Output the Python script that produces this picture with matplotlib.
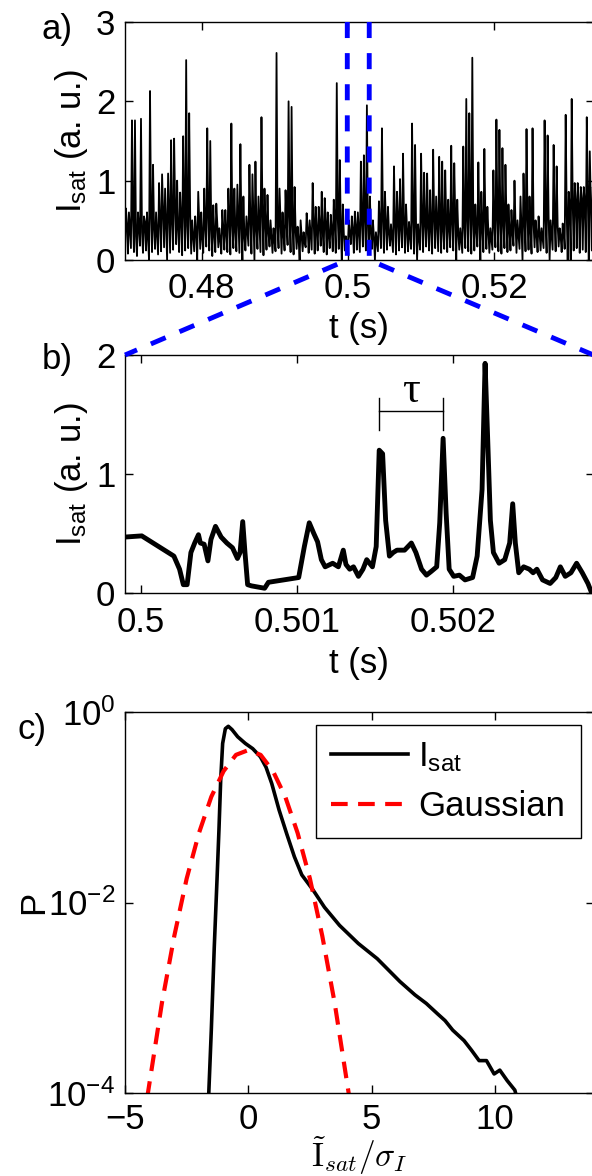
import numpy as np
import matplotlib
matplotlib.use("Agg")
import matplotlib.pyplot as plt
from matplotlib.lines import Line2D
from matplotlib.ticker import NullLocator

# ---------------- data ----------------
# (a) ion saturation current, long record: per-sample lower / upper / mid excursions
isat_a_lower = [
    0.12, 0.08, 0.15, 0.10, 0.05, 0.18, 0.09, 0.12, 0.00, 0.10, 0.14, 0.07, 0.11, 0.16, 0.00, 0.09, 0.13, 0.20, 0.10, 0.06,
    0.12, 0.15, 0.08, 0.11, 0.00, 0.14, 0.09, 0.17, 0.12, 0.05, 0.10, 0.16, 0.08, 0.13, 0.10, 0.07, 0.15, 0.11, 0.09, 0.00,
    0.12, 0.18, 0.08, 0.00, 0.14, 0.10, 0.06, 0.13, 0.17, 0.09, 0.11, 0.15, 0.08, 0.12, 0.19, 0.10, 0.07, 0.14, 0.00, 0.11,
    0.16, 0.09, 0.13, 0.08, 0.12, 0.18, 0.10, 0.07, 0.15, 0.11, 0.09, 0.14, 0.00, 0.12, 0.16, 0.20, 0.09, 0.13, 0.10, 0.17,
    0.12, 0.08, 0.14, 0.00, 0.11, 0.15, 0.09, 0.13, 0.18, 0.10, 0.07, 0.12, 0.16, 0.09, 0.11, 0.14, 0.08, 0.00, 0.13, 0.10,
    0.17, 0.12, 0.08, 0.15, 0.11, 0.09, 0.14, 0.10, 0.16, 0.12, 0.00, 0.13, 0.09, 0.15, 0.11, 0.08, 0.12, 0.17, 0.00, 0.10,
    0.14, 0.09, 0.13, 0.16, 0.11, 0.08, 0.15, 0.10, 0.12, 0.18, 0.09, 0.14, 0.00, 0.11, 0.13, 0.08, 0.16, 0.10, 0.12, 0.15,
    0.09, 0.00, 0.13, 0.11, 0.17, 0.10, 0.14, 0.00, 0.00, 0.12, 0.15, 0.09, 0.13, 0.10, 0.00, 0.12,
]
isat_a_upper = [
    0.65, 0.60, 1.76, 1.76, 0.60, 1.78, 0.55, 0.60, 2.13, 1.20,
    0.60, 0.97, 1.08, 0.90, 1.09, 1.51, 1.53, 1.00, 0.85, 1.56,
    2.52, 1.85, 0.50, 0.55, 0.86, 0.60, 0.90, 1.66, 1.50, 0.69,
    0.71, 0.40, 0.63, 0.63, 0.90, 1.72, 0.90, 0.95, 1.46, 0.80,
    0.55, 1.20, 1.08, 1.24, 0.80, 1.80, 0.90, 0.82, 0.50, 0.40,
    2.61, 0.90, 0.60, 0.88, 2.00, 1.93, 0.92, 0.42, 0.50, 0.35,
    0.59, 0.50, 0.97, 0.67, 0.67, 0.86, 0.78, 0.60, 0.57, 0.76,
    2.23, 1.26, 0.70, 0.30, 0.50, 0.55, 0.61, 0.60, 1.24, 1.32,
    1.95, 0.80, 0.50, 0.35, 0.74, 1.66, 0.86, 0.67, 0.45, 1.18,
    0.86, 1.02, 1.34, 0.70, 0.48, 1.72, 1.45, 0.45, 1.34, 1.10,
    1.09, 0.88, 1.39, 0.80, 1.30, 1.24, 1.13, 0.76, 1.44, 1.22,
    0.76, 0.40, 1.43, 2.03, 1.85, 2.55, 0.70, 1.23, 0.86, 1.40,
    0.67, 0.40, 1.13, 1.77, 1.64, 1.41, 1.20, 0.70, 0.63, 1.00,
    0.50, 0.80, 1.09, 1.65, 0.80, 1.66, 0.50, 0.55, 0.40, 1.76,
    1.57, 0.50, 1.45, 1.18, 0.40, 0.46, 1.83, 0.86, 2.03, 0.97,
    0.97, 0.92, 0.92, 1.80, 1.37, 0.92,
]
isat_a_mid = [
    0.45, 0.38, 0.52, 0.30, 0.41, 0.35, 0.48, 0.28, 0.55, 0.40, 0.33, 0.50, 0.62, 0.44, 0.58, 0.47, 0.66, 0.39, 0.52, 0.60,
    0.43, 0.57, 0.31, 0.36, 0.49, 0.27, 0.42, 0.55, 0.38, 0.33, 0.46, 0.25, 0.40, 0.34, 0.51, 0.44, 0.37, 0.53, 0.41, 0.30,
    0.36, 0.48, 0.52, 0.39, 0.45, 0.58, 0.47, 0.35, 0.29, 0.24, 0.41, 0.50, 0.33, 0.46, 0.55, 0.43, 0.38, 0.26, 0.31, 0.22,
    0.40, 0.32, 0.49, 0.37, 0.44, 0.35, 0.48, 0.30, 0.39, 0.46, 0.52, 0.41, 0.34, 0.20, 0.32, 0.38, 0.42, 0.36, 0.47, 0.51,
    0.44, 0.37, 0.29, 0.23, 0.41, 0.50, 0.46, 0.35, 0.28, 0.45, 0.52, 0.40, 0.47, 0.38, 0.30, 0.49, 0.43, 0.27, 0.51, 0.46,
    0.42, 0.39, 0.53, 0.44, 0.48, 0.37, 0.50, 0.41, 0.46, 0.55, 0.35, 0.25, 0.42, 0.49, 0.57, 0.45, 0.38, 0.47, 0.40, 0.52,
    0.36, 0.27, 0.43, 0.51, 0.48, 0.45, 0.55, 0.39, 0.34, 0.47, 0.31, 0.42, 0.49, 0.53, 0.37, 0.46, 0.33, 0.35, 0.28, 0.50,
    0.55, 0.32, 0.48, 0.44, 0.30, 0.38, 0.60, 0.68, 0.72, 0.75, 0.70, 0.78, 0.73, 0.80, 0.74, 0.76,
]
t_a_start, t_a_end = 0.4695, 0.5336          # record window shown in (a), s
zoom_window = (0.4999, 0.5029)                # window expanded in (b), s

# (b) zoomed record: time after 0.5 s (ms) and Isat
t_b_ms = [
    -0.1017, 0.0073, 0.0436, 0.1162, 0.1646, 0.2131, 0.2494, 0.2736, 0.2978, 0.3220,
    0.3462, 0.3705, 0.3826, 0.4068, 0.4310, 0.4504, 0.4794, 0.5157, 0.5521, 0.5884,
    0.6199, 0.6368, 0.6538, 0.6683, 0.6852, 0.7094, 0.7942, 0.8184, 0.9153, 1.0121,
    1.0484, 1.0799, 1.1090, 1.1332, 1.1574, 1.1816, 1.2300, 1.2663, 1.2978, 1.3148,
    1.3390, 1.3632, 1.3947, 1.4237, 1.4479, 1.4843, 1.5085, 1.5278, 1.5496, 1.5690,
    1.5932, 1.6174, 1.6416, 1.6901, 1.7337, 1.7627, 1.7990, 1.8305, 1.8596, 1.8959,
    1.9153, 1.9370, 1.9564, 1.9758, 2.0048, 2.0412, 2.0775, 2.1259, 2.1550, 2.1864,
    2.2058, 2.2228, 2.2397, 2.2591, 2.2954, 2.3317, 2.3632, 2.3826, 2.3995, 2.4213,
    2.4528, 2.4891, 2.5133, 2.5375, 2.5738, 2.6223, 2.6586, 2.6877, 2.7191, 2.7554,
    2.7918, 2.8281, 2.8644, 2.8886,
]
isat_b = [
    0.47, 0.48, 0.45, 0.39, 0.35, 0.31, 0.20, 0.07, 0.07, 0.34,
    0.42, 0.49, 0.42, 0.41, 0.27, 0.45, 0.56, 0.47, 0.42, 0.38,
    0.29, 0.34, 0.60, 0.34, 0.07, 0.06, 0.04, 0.09, 0.11, 0.13,
    0.39, 0.59, 0.50, 0.43, 0.28, 0.22, 0.25, 0.22, 0.36, 0.24,
    0.20, 0.22, 0.14, 0.20, 0.28, 0.22, 0.39, 1.20, 1.17, 0.61,
    0.31, 0.34, 0.36, 0.36, 0.42, 0.34, 0.20, 0.15, 0.18, 0.22,
    0.59, 1.30, 0.67, 0.20, 0.14, 0.15, 0.11, 0.13, 0.31, 0.87,
    1.93, 1.28, 0.61, 0.34, 0.25, 0.28, 0.42, 0.75, 0.42, 0.17,
    0.22, 0.20, 0.17, 0.20, 0.11, 0.08, 0.13, 0.22, 0.14, 0.17,
    0.25, 0.17, 0.08, 0.00,
]
tau_peaks = (47, 61)            # indices of the two bursts separated by tau
tau_bar_y = (1.37, 1.53, 1.64)  # bracket: bottom, bar, top

# (c) PDF of normalised fluctuations (log10 P)
pdf_x = [-1.61, -1.50, -1.38, -1.27, -1.19, -1.12, -1.04, -0.93, -0.81, -0.66,
         -0.43, -0.12, 0.18, 0.49, 0.72, 0.95, 1.25, 1.56, 1.87, 2.17,
         2.63, 3.09, 3.70, 4.46, 5.23, 5.69, 6.15, 6.76, 7.22, 7.68,
         7.98, 8.29, 8.75, 9.05, 9.36, 9.66, 9.97, 10.2, 10.5, 10.81, 10.89]
pdf_log = [-4.05, -3.34, -2.47, -1.77, -1.24, -0.72, -0.33, -0.175, -0.15, -0.185,
           -0.26, -0.33, -0.385, -0.47, -0.58, -0.75, -1.03, -1.28, -1.52, -1.71,
           -1.87, -2.05, -2.24, -2.43, -2.59, -2.71, -2.83, -2.97, -3.06, -3.17,
           -3.24, -3.34, -3.45, -3.55, -3.66, -3.66, -3.80, -3.76, -3.87, -3.97, -4.05]
gauss_x = [-4.1, -3.5, -3.0, -2.5, -2.0, -1.5, -1.0, -0.5, 0.0,
           0.5, 1.0, 1.5, 2.0, 2.5, 3.0, 3.5, 4.1]
gauss_log = [-4.05, -3.05, -2.35, -1.75, -1.27, -0.89, -0.62, -0.45, -0.40,
             -0.45, -0.62, -0.89, -1.27, -1.75, -2.35, -3.05, -4.05]

a_xticks = [0.48, 0.50, 0.52]
a_xticklabels = ["0.48", "0.5", "0.52"]
b_xticks = [0.500, 0.501, 0.502]
b_xticklabels = ["0.5", "0.501", "0.502"]

# ---------------- style ----------------
plt.rcParams['font.family'] = ['Liberation Sans', 'DejaVu Sans']
plt.rcParams['font.size'] = 25
plt.rcParams['mathtext.fontset'] = 'cm'

W, H = 592, 1176
fig = plt.figure(figsize=(W / 100, H / 100), dpi=100)


def rect(left, top, right, bottom):
    return [left / W, 1 - bottom / H, (right - left) / W, (bottom - top) / H]


def style(ax, xpad=9):
    for s in ax.spines.values():
        s.set_linewidth(1.0)
    ax.tick_params(which='both', direction='in', top=True, right=True,
                   length=6, width=1.0, labelsize=25)
    ax.tick_params(axis='x', pad=xpad)
    ax.tick_params(axis='y', pad=7)


ax_a = fig.add_axes(rect(125, 22, 593.5, 260))
ax_b = fig.add_axes(rect(125, 355, 593.5, 593))
ax_c = fig.add_axes(rect(125, 712, 593.5, 1093))
style(ax_a)
style(ax_b)
style(ax_c, xpad=7)

ylab = r'$\mathregular{I_{sat}}$ (a. u.)'

# (a)
t_a = np.linspace(t_a_start, t_a_end, 3 * len(isat_a_upper))
y_a = np.column_stack([isat_a_lower, isat_a_upper, isat_a_mid]).ravel()
ax_a.plot(t_a, y_a, color='k', lw=1.3)
ax_a.set_xlim(0.46951, 0.53356)
ax_a.set_ylim(0, 3)
ax_a.set_xticks(a_xticks, labels=a_xticklabels)
ax_a.set_yticks([0, 1, 2, 3])
ax_a.set_xlabel('t (s)')
ax_a.set_ylabel(ylab)
ax_a.xaxis.set_label_coords(0.5, -0.22)
ax_a.yaxis.set_label_coords(-0.075, 0.5)

# (b)
t_b = 0.5 + np.array(t_b_ms) / 1000.0
ax_b.plot(t_b, isat_b, color='k', lw=3.5, solid_joinstyle='round')
ax_b.set_xlim(*zoom_window)
ax_b.set_ylim(0, 2)
ax_b.set_xticks(b_xticks, labels=b_xticklabels)
ax_b.set_yticks([0, 1, 2])
ax_b.set_xlabel('t (s)')
ax_b.set_ylabel(ylab)
ax_b.xaxis.set_label_coords(0.5, -0.225)
ax_b.yaxis.set_label_coords(-0.075, 0.5)

t1, t2 = t_b[tau_peaks[0]], t_b[tau_peaks[1]]
y0, ym, y1 = tau_bar_y
ax_b.plot([t1, t1], [y0, y1], color='k', lw=1.0)
ax_b.plot([t2, t2], [y0, y1], color='k', lw=1.0)
ax_b.plot([t1, t2], [ym, ym], color='k', lw=1.0)
ax_b.text((t1 + t2) / 2, 1.70, 'τ', family=['Liberation Serif', 'DejaVu Serif'],
          fontsize=32, ha='center', va='center')

# (c)
ax_c.set_yscale('log')
ax_c.plot(pdf_x, 10 ** np.array(pdf_log), color='k', lw=2.6, label=r'$\mathregular{I_{sat}}$')
ax_c.plot(gauss_x, 10 ** np.array(gauss_log), color='r', lw=3.0, dashes=(4, 2.5),
          label='Gaussian')
ax_c.set_xlim(-5, 14)
ax_c.set_ylim(1e-4, 1)
ax_c.set_xticks([-5, 0, 5, 10])
ax_c.set_yticks([1e-4, 1e-2, 1])
ax_c.yaxis.set_minor_locator(NullLocator())
ax_c.set_ylabel('P')
ax_c.set_xlabel(r'$\tilde{\mathrm{I}}_{sat}/\sigma_I$', fontsize=24)
ax_c.xaxis.set_label_coords(0.5, -0.11)
ax_c.yaxis.set_label_coords(-0.16, 0.5)
leg = ax_c.legend(loc='upper right', fontsize=25, fancybox=False, framealpha=1,
                  edgecolor='k', borderaxespad=0.37, handlelength=2.2,
                  handletextpad=0.3, borderpad=0.45, labelspacing=0.45)
leg.get_frame().set_linewidth(1.0)

# panel letters
fig.text(57 / W, 1 - 30 / H, 'a)', ha='center', va='center', fontsize=25)
fig.text(57 / W, 1 - 360 / H, 'b)', ha='center', va='center', fontsize=25)
fig.text(32 / W, 1 - 730 / H, 'c)', ha='center', va='center', fontsize=25)

# zoom guides: window edges in (a) fanning out to the top corners of (b)
to_fig = fig.transFigure.inverted()
for t_edge, corner in ((zoom_window[0], (0, 1)), (zoom_window[1], (1, 1))):
    p_top = to_fig.transform(ax_a.transData.transform((t_edge, 3)))
    p_bot = to_fig.transform(ax_a.transData.transform((t_edge, 0)))
    p_b = to_fig.transform(ax_b.transAxes.transform(corner))
    fig.add_artist(Line2D([p_top[0], p_bot[0], p_b[0]], [p_top[1], p_bot[1], p_b[1]],
                          transform=fig.transFigure, color=(0, 0, 1), lw=3.5,
                          dashes=(3.3, 3.1), zorder=10))

fig.savefig('out.png', dpi=100)
